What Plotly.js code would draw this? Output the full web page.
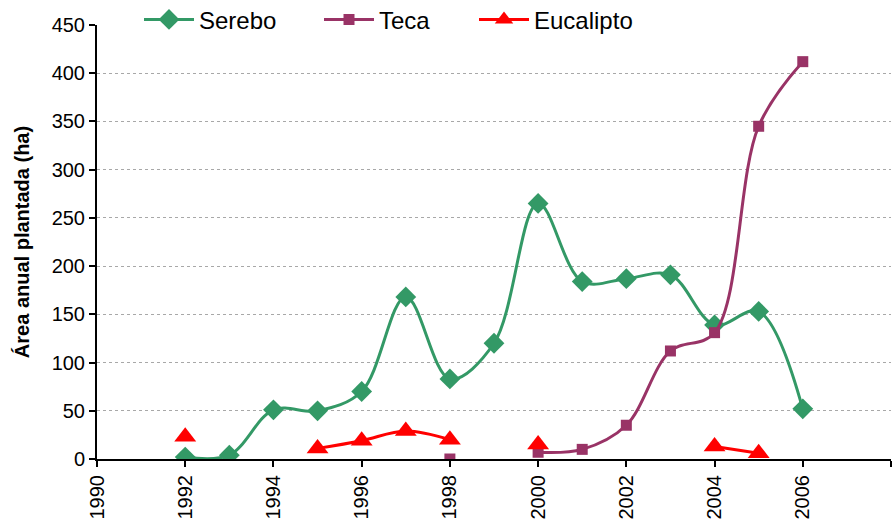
<!DOCTYPE html>
<html>
<head>
<meta charset="utf-8">
<script src="https://cdn.plot.ly/plotly-3.0.1.min.js"></script>
<style>html,body{margin:0;padding:0;background:#fff;}#chart{width:895px;height:524px;}</style>
</head>
<body>
<div id="chart"></div>
<script>
var years = [1992, 1993, 1994, 1995, 1996, 1997, 1998, 1999, 2000, 2001, 2002, 2003, 2004, 2005, 2006];
var serebo = [2, 4, 51, 50, 70, 168, 83, 120, 265, 184, 187, 191, 139, 153, 52];
var teca = [null, null, null, null, null, null, 0, null, 7, 10, 35, 112, 131, 345, 412];
var eucalipto = [23, null, null, 11, 19, 29, 20, null, 15, null, null, null, 13, 6, null];
var seriesNames = ["Serebo", "Teca", "Eucalipto"];
var yTitle = "Área anual plantada (ha)";

var FONT = "Arial, 'Liberation Sans', sans-serif";

var traces = [
  {x: years, y: serebo, name: seriesNames[0], type: "scatter", mode: "lines+markers", legend: "legend",
   line: {color: "#339966", width: 3, shape: "spline", smoothing: 1},
   marker: {symbol: "diamond", size: 16, color: "#339966"}},
  {x: years, y: teca, name: seriesNames[1], type: "scatter", mode: "lines+markers", legend: "legend2",
   line: {color: "#993366", width: 3, shape: "spline", smoothing: 1},
   marker: {symbol: "square", size: 11, color: "#993366"}},
  {x: years, y: eucalipto, name: seriesNames[2], type: "scatter", mode: "lines+markers", legend: "legend3",
   line: {color: "#FF0000", width: 3, shape: "spline", smoothing: 1},
   marker: {symbol: "triangle-up", size: 19, color: "#FF0000"}}
];

function leg(px) {
  return {orientation: "h", x: (px - 97) / 794, xanchor: "left", y: 1.012, yanchor: "middle",
          font: {size: 24, family: FONT}, bgcolor: "rgba(255,255,255,0)", itemwidth: 50};
}

var layout = {
  width: 895, height: 524,
  margin: {l: 97, r: 4, t: 25, b: 65, autoexpand: false},
  paper_bgcolor: "#fff", plot_bgcolor: "#fff",
  font: {family: FONT, color: "#000", size: 20},
  showlegend: true,
  legend: leg(139),
  legend2: leg(319),
  legend3: leg(474),
  xaxis: {range: [1990, 2008], dtick: 2, tick0: 1990, tickangle: -90, automargin: false,
          showgrid: false, zeroline: false, showline: true, linecolor: "#000", linewidth: 2,
          ticks: "outside", ticklen: 6, tickcolor: "#000", tickwidth: 2,
          tickfont: {size: 20, family: FONT}},
  yaxis: {range: [0, 450], dtick: 50, showgrid: true, gridcolor: "#a8a8a8", griddash: "dot", gridwidth: 1,
          zeroline: false, showline: true, linecolor: "#000", linewidth: 2, automargin: false,
          ticks: "outside", ticklen: 6, tickcolor: "#000", tickwidth: 2,
          tickfont: {size: 20, family: FONT},
          title: {text: "<b>" + yTitle + "</b>", font: {size: 20, family: FONT}, standoff: 17}},
  hovermode: false
};

Plotly.newPlot("chart", traces, layout, {displayModeBar: false, staticPlot: true});
</script>
</body>
</html>
